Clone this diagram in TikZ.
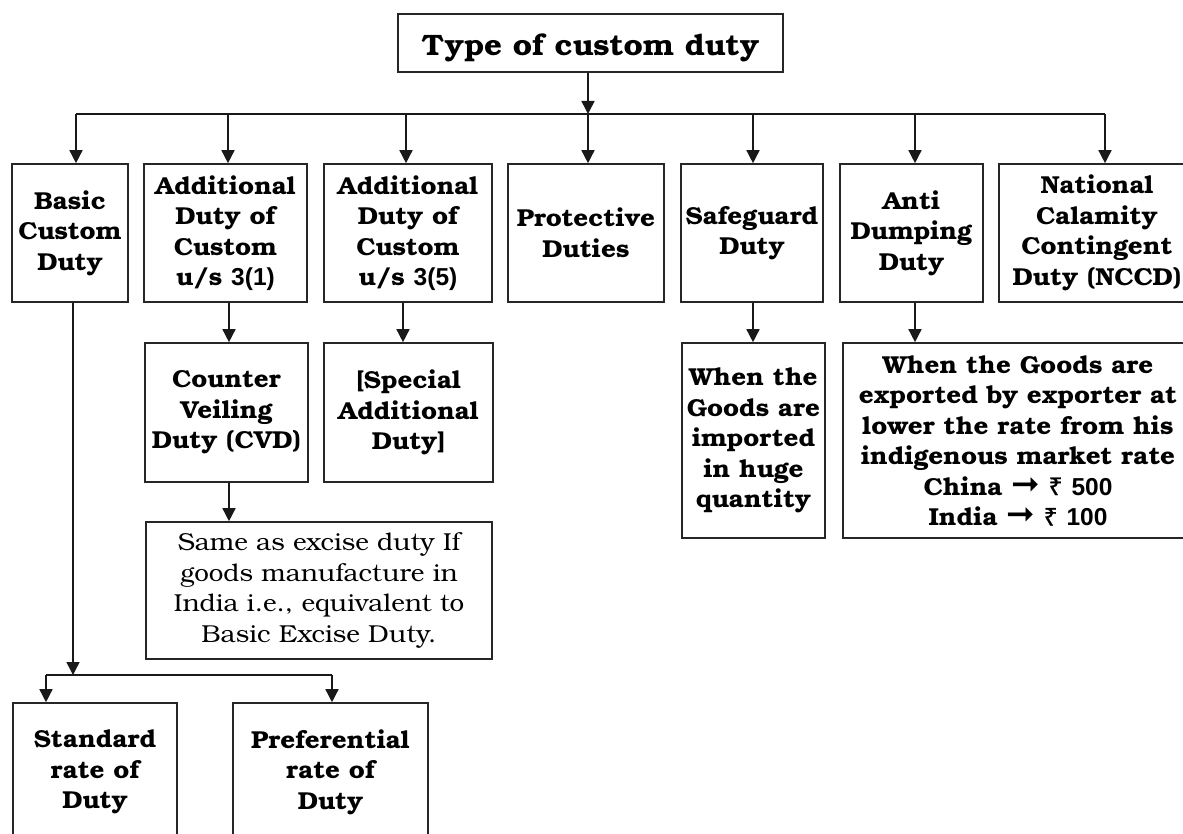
\documentclass[tikz,border=0pt]{standalone}
\usepackage{fontspec}
\setmainfont{TeX Gyre Bonum}[FakeStretch=1.06]
\newfontfamily\numfont{Liberation Sans}
\newfontfamily\rupfont{Noto Sans}[FakeBold=1.2]
\newfontfamily\arrfont{DejaVu Sans}
\newcommand{\bigarr}{{\arrfont\bfseries\fontsize{34}{30}\selectfont ➞}}
\usetikzlibrary{arrows.meta}
\begin{document}
\begin{tikzpicture}[x=1pt,y=-1pt,
  box/.style={draw=black!85, line width=1.6pt, align=center, inner sep=0pt,
    font=\bfseries\fontsize{24.5}{30.5}\selectfont},
  plainbox/.style={box, font=\fontsize{24.5}{30.5}\selectfont},
  conn/.style={draw=black!90, line width=1.5pt},
  arr/.style={conn, -{Triangle[length=13pt,width=13pt]}}]
\useasboundingbox (0,0) rectangle (1183,834);
\fill[white] (0,0) rectangle (1183,834);
\clip (0,0) rectangle (1183,834);

% title
\node[box, minimum width=385pt, minimum height=58pt, text depth=0pt,
  font=\bfseries\fontsize{29.5}{34}\selectfont] (top) at (590.5,43) {\raisebox{-2.5pt}{Type of custom duty}};

% row 1
\node[box, minimum width=116pt, minimum height=138pt] (b1) at (70,233) {Basic\\Custom\\Duty};
\node[box, minimum width=163pt, minimum height=138pt] (b2) at (225.5,233) {Additional\\Duty of\\Custom\\u/s {\numfont\bfseries 3(1)}};
\node[box, minimum width=168pt, minimum height=138pt] (b3) at (408,233) {Additional\\Duty of\\Custom\\u/s {\numfont\bfseries 3(5)}};
\node[box, minimum width=156pt, minimum height=138pt] (b4) at (586,233) {Protective\\Duties};
\node[box, minimum width=142pt, minimum height=138pt] (b5) at (752,233) {Safeguard\\Duty};
\node[box, minimum width=143pt, minimum height=138pt] (b6) at (911.5,233) {Anti\\Dumping\\Duty};
\node[box, minimum width=196pt, minimum height=138pt] (b7) at (1097,233) {National\\Calamity\\Contingent\\Duty (NCCD)};

% row 2
\node[box, minimum width=163pt, minimum height=139pt] (c1) at (226.5,412.5) {Counter\\Veiling\\Duty (CVD)};
\node[box, minimum width=169pt, minimum height=139pt] (c2) at (408.5,412.5) {[Special\\Additional\\Duty]};
\node[box, minimum width=143pt, minimum height=195pt] (c3) at (753.5,440.5) {When the\\Goods are\\imported\\in huge\\quantity};
\node[box, minimum width=350pt, minimum height=195pt] (c4) at (1018,440.5) {When the Goods are\\exported by exporter at\\lower the rate from his\\indigenous market rate\\China \bigarr\ {\rupfont ₹} {\numfont\bfseries 500}\\India \bigarr\ {\rupfont ₹} {\numfont\bfseries 100}};

% row 3
\node[plainbox, minimum width=346pt, minimum height=137pt] (d1) at (319,590.5) {Same as excise duty If\\goods manufacture in\\India i.e., equivalent to\\Basic Excise Duty.};

% row 4
\node[box, minimum width=164pt, minimum height=138pt] (e1) at (95,772) {Standard\\rate of\\Duty};
\node[box, minimum width=195pt, minimum height=138pt] (e2) at (330.5,772) {Preferential\\rate of\\Duty};

% junction coordinates
\coordinate (j0) at (588,114);
\coordinate (j1) at (76,114);
\coordinate (j2) at (228,114);
\coordinate (j3) at (406,114);
\coordinate (j4) at (588,114);
\coordinate (j5) at (753,114);
\coordinate (j6) at (915,114);
\coordinate (j7) at (1105,114);
\coordinate (k0) at (73,675);
\coordinate (k1) at (46,675);
\coordinate (k2) at (332,675);
\coordinate (s2) at (229,0);
\coordinate (s3) at (403,0);
\coordinate (s5) at (753,0);
\coordinate (s6) at (915,0);

% top connectors
\draw[arr] (top.south -| j0) -- (j0);
\draw[conn] (j1) -- (j7);
\foreach \j/\b in {j1/b1,j2/b2,j3/b3,j4/b4,j5/b5,j6/b6,j7/b7}
  \draw[arr] (\j) -- (\j |- \b.north);

% row 1 -> row 2
\draw[arr] (s2 |- b2.south) -- (s2 |- c1.north);
\draw[arr] (s3 |- b3.south) -- (s3 |- c2.north);
\draw[arr] (s5 |- b5.south) -- (s5 |- c3.north);
\draw[arr] (s6 |- b6.south) -- (s6 |- c4.north);

% CVD -> excise
\draw[arr] (s2 |- c1.south) -- (s2 |- d1.north);

% basic -> standard / preferential
\draw[arr] (k0 |- b1.south) -- (k0);
\draw[conn] (k1) -- (k2);
\draw[arr] (k1) -- (k1 |- e1.north);
\draw[arr] (k2) -- (k2 |- e2.north);
\end{tikzpicture}
\end{document}
